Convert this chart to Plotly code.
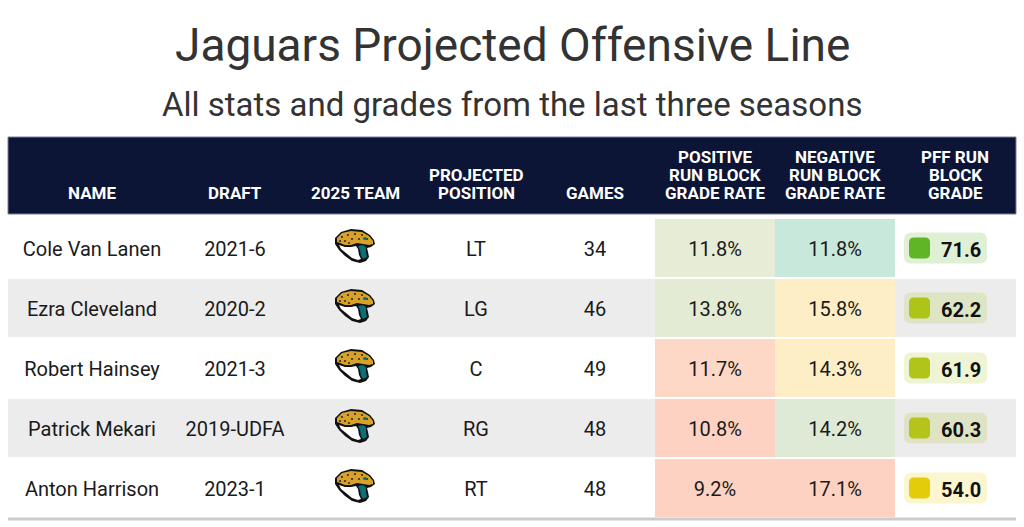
import plotly.graph_objects as go

# ---------------- data ----------------
title = "Jaguars Projected Offensive Line"
subtitle = "All stats and grades from the last three seasons"
headers = [["NAME"], ["DRAFT"], ["2025 TEAM"], ["PROJECTED", "POSITION"], ["GAMES"],
           ["POSITIVE", "RUN BLOCK", "GRADE RATE"], ["NEGATIVE", "RUN BLOCK", "GRADE RATE"],
           ["PFF RUN", "BLOCK", "GRADE"]]
names = ["Cole Van Lanen", "Ezra Cleveland", "Robert Hainsey", "Patrick Mekari", "Anton Harrison"]
drafts = ["2021-6", "2020-2", "2021-3", "2019-UDFA", "2023-1"]
teams = ["JAX", "JAX", "JAX", "JAX", "JAX"]
positions = ["LT", "LG", "C", "RG", "RT"]
games = [34, 46, 49, 48, 48]
pos_rate = [11.8, 13.8, 11.7, 10.8, 9.2]
neg_rate = [11.8, 15.8, 14.3, 14.2, 17.1]
grades = [71.6, 62.2, 61.9, 60.3, 54.0]

# ---------------- styles / layout ----------------
W, H = 1024, 527
TL, TR = 8, 1016
HDR_TOP, HDR_BOT = 137, 214
ROW0, PITCH, ROWH = 219, 60, 58
TEXT_DY = 3
col_x = [92, 235, 355, 476, 595, 715, 835, 955]
heat_x = [(655, 775), (775, 895)]
NAVY = "#0c1535"
FONT = "Roboto"
pos_fill = ["#e6ecd6", "#e4ebd4", "#fdd8c6", "#fdd2c2", "#fdd2c2"]
neg_fill = ["#c9e8dc", "#fdeec6", "#fdeec6", "#dfead6", "#fdd2c2"]
grade_sq = ["#5fb526", "#afc418", "#b0c41a", "#b5c41a", "#e3cc0a"]
grade_pill = ["#dff0d4", "#dde5c4", "#eef4d4", "#dfe3c4", "#fbf6d0"]
ROW_ALT = "#ececec"


def rrect(x0, y0, x1, y1, r):
    return (f"M{x0+r},{y0} L{x1-r},{y0} Q{x1},{y0} {x1},{y0+r} L{x1},{y1-r} "
            f"Q{x1},{y1} {x1-r},{y1} L{x0+r},{y1} Q{x0},{y1} {x0},{y1-r} "
            f"L{x0},{y0+r} Q{x0},{y0} {x0+r},{y0} Z")


def pts(cx, cy, p):
    return " ".join(f"{'M' if i == 0 else 'L'}{cx+x:.1f},{cy+y:.1f}" for i, (x, y) in enumerate(p)) + " Z"


def logo(cx, cy):
    out = []
    outline = [(-20, -8), (-14, -14), (-4, -17), (7, -16), (15, -11), (19, -6), (20, -2), (16, 1),
               (12, 2), (13, 6), (14, 11), (11, 15), (5, 17), (-3, 15), (-10, 10), (-16, 4),
               (-20, -2)]
    gold = [(-18, -8), (-13, -13), (-4, -15), (7, -14), (14, -10), (18, -5), (18, -2), (14, -1),
            (8, -2), (2, -3), (-4, -1), (-10, -1), (-15, -3), (-18, -4)]
    white = [(-16, -1), (-10, 1), (-4, 1), (1, 0), (3, 3), (4, 9), (6, 13), (3, 14), (-3, 12),
             (-9, 7), (-14, 3)]
    teal = [(3, 0), (8, -1), (11, 1), (11, 6), (12, 11), (8, 13), (6, 10), (5, 4)]
    out.append(dict(type="path", path=pts(cx, cy, outline), fillcolor="#111111", line_width=0))
    out.append(dict(type="path", path=pts(cx, cy, gold), fillcolor="#d6a22c", line_width=0))
    out.append(dict(type="path", path=pts(cx, cy, white), fillcolor="#ffffff", line_width=0))
    out.append(dict(type="path", path=pts(cx, cy, teal), fillcolor="#0b6f78", line_width=0))
    for sx, sy in [(-13, -9), (-7, -11), (0, -12), (7, -11), (-10, -5), (-3, -7), (12, -7),
                   (-15, -5), (4, -7), (-6, -3)]:
        out.append(dict(type="circle", x0=cx+sx-1.1, x1=cx+sx+1.1, y0=cy+sy-1.1, y1=cy+sy+1.1,
                        fillcolor="#3a2a10", line_width=0))
    out.append(dict(type="circle", x0=cx+8, x1=cx+12, y0=cy-9, y1=cy-6,
                    fillcolor="#0b6f78", line_width=0))
    return out


fig = go.Figure()
shapes = []
ann = []

# header
shapes.append(dict(type="rect", x0=TL, x1=TR, y0=HDR_TOP, y1=HDR_BOT, fillcolor=NAVY,
                   line=dict(color="#7a8096", width=1)))
LINE_H = 18
for cx, lines in zip(col_x, headers):
    n = len(lines)
    for k, t in enumerate(lines):
        yy = 193 - (n - 1 - k) * LINE_H
        ann.append(dict(x=cx, y=yy, text=f"<b>{t}</b>", showarrow=False, xanchor="center",
                        yanchor="middle", font=dict(family=FONT, size=17, color="white")))

row_cy = []
for i in range(len(names)):
    top = ROW0 + PITCH * i
    cy = top + ROWH / 2
    row_cy.append(cy + TEXT_DY)
    if i % 2 == 1:
        shapes.append(dict(type="rect", x0=TL, x1=TR, y0=top, y1=top + ROWH, fillcolor=ROW_ALT,
                           line_width=0, layer="below"))
    shapes.append(dict(type="rect", x0=heat_x[0][0], x1=heat_x[0][1], y0=top, y1=top + ROWH,
                       fillcolor=pos_fill[i], line_width=0, layer="below"))
    shapes.append(dict(type="rect", x0=heat_x[1][0], x1=heat_x[1][1], y0=top, y1=top + ROWH,
                       fillcolor=neg_fill[i], line_width=0, layer="below"))
    # grade pill
    shapes.append(dict(type="path", path=rrect(904, cy - 15.5, 987, cy + 15.5, 7),
                       fillcolor=grade_pill[i], line_width=0))
    shapes.append(dict(type="path", path=rrect(909, cy - 10.5, 930, cy + 10.5, 5),
                       fillcolor=grade_sq[i], line_width=0))
    ann.append(dict(x=983, y=cy + 1.5, text=f"<b>{grades[i]:.1f}</b>", showarrow=False,
                    xanchor="right", yanchor="middle",
                    font=dict(family=FONT, size=20, color="#111111")))
    if teams[i] == "JAX":
        shapes.extend(logo(col_x[2], cy - 2))

# bottom rule
shapes.append(dict(type="line", x0=TL, x1=TR, y0=519, y1=519, line=dict(color="#cccccc", width=3)))

body_cols = [
    (col_x[0], names),
    (col_x[1], drafts),
    (col_x[3], positions),
    (col_x[4], [str(g) for g in games]),
    (col_x[5], [f"{v:.1f}%" for v in pos_rate]),
    (col_x[6], [f"{v:.1f}%" for v in neg_rate]),
]
for cx, vals in body_cols:
    fig.add_trace(go.Scatter(x=[cx] * len(vals), y=row_cy, mode="text", text=vals,
                             textposition="middle center", hoverinfo="skip", showlegend=False,
                             textfont=dict(family=FONT, size=20, color="#1a1a1a")))

ann.append(dict(x=512, y=45, text=title, showarrow=False, xanchor="center", yanchor="middle",
                font=dict(family=FONT, size=46, color="#333333")))
ann.append(dict(x=512, y=104, text=subtitle, showarrow=False, xanchor="center", yanchor="middle",
                font=dict(family=FONT, size=33, color="#333333")))

fig.update_layout(width=W, height=H, margin=dict(l=0, r=0, t=0, b=0), paper_bgcolor="white",
                  plot_bgcolor="white", shapes=shapes, annotations=ann, showlegend=False)
fig.update_xaxes(range=[0, W], visible=False, fixedrange=True)
fig.update_yaxes(range=[H, 0], visible=False, fixedrange=True)
fig.write_html("out.html", config={"displayModeBar": False},
               post_script="document.body.style.margin='0';document.body.style.overflow='hidden';")
